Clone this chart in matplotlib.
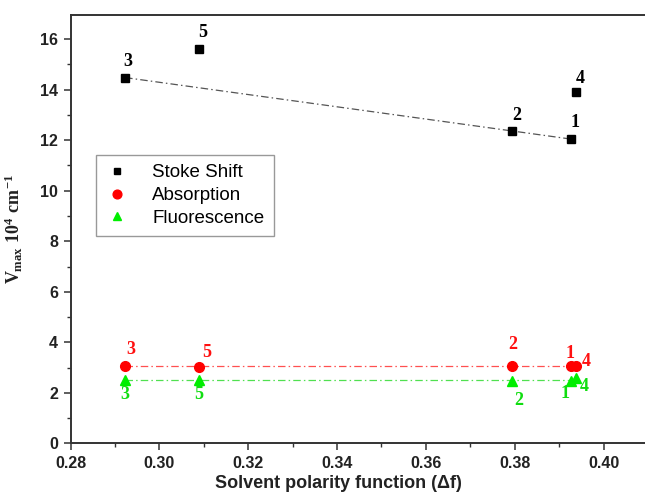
import numpy as np
import matplotlib
matplotlib.use("Agg")
import matplotlib.pyplot as plt
from matplotlib.ticker import MultipleLocator

plt.rcParams['mathtext.fontset'] = 'custom'
plt.rcParams['mathtext.rm'] = 'Liberation Serif:bold'
plt.rcParams['mathtext.bf'] = 'Liberation Serif:bold'
plt.rcParams['mathtext.it'] = 'Liberation Serif:bold'

# ---- data ----
solvents = ["1", "2", "3", "4", "5"]
delta_f = [0.3927, 0.3795, 0.2923, 0.3937, 0.3089]
stoke_shift = [12.04, 12.37, 14.48, 13.89, 15.60]
absorption = [3.05, 3.06, 3.06, 3.05, 3.04]
fluorescence = [2.46, 2.46, 2.52, 2.57, 2.52]
fit_solvents_stoke = ["1", "2", "3"]  # points used for the Stoke shift trend line

# label offsets (pixels) for the numeric point labels
stoke_off = [(4, 17), (4, 15), (3, 16), (5, 14), (4, 17)]
abs_off = [(-1, 13), (0, 22), (6, 17), (11, 5), (8, 14)]
flu_off = [(-6, -12), (6, -19), (0, -15), (9, -8), (0, -15)]

fig = plt.figure(figsize=(6.45, 4.93), dpi=100)
ax = fig.add_axes([70.5 / 645, (493 - 443.3) / 493, 1 - 70.5 / 645, (443.3 - 14.7) / 493])

x = np.array(delta_f)
dash = (0, (6, 2.5, 1.2, 2.5))

# trend lines
idx = [solvents.index(s) for s in fit_solvents_stoke]
p = np.polyfit(x[idx], np.array(stoke_shift)[idx], 1)
xs = np.array([x[idx].min(), x[idx].max()])
ax.plot(xs, np.polyval(p, xs), color='#555555', lw=0.9, ls=dash, zorder=1)

xa = np.array([x.min(), x.max()])
pa = np.polyfit(x, absorption, 0)
ax.plot(xa, np.polyval(pa, xa), color='#ff5050', lw=0.9, ls=dash, zorder=1)
pf = np.polyfit(x, fluorescence, 0)
ax.plot(xa, np.polyval(pf, xa), color='#50e050', lw=0.9, ls=dash, zorder=1)

ax.plot(x, stoke_shift, 's', color='black', ms=5.5, ls='none', label='Stoke Shift', zorder=3)
ax.plot(x, absorption, 'o', color='#ff0000', ms=7, ls='none', label='Absorption', zorder=3)
ax.plot(x, fluorescence, '^', color='#00ee00', ms=7, ls='none', label='Fluorescence', zorder=3)

num_font = dict(family='Liberation Serif', fontweight='bold', fontsize=13)
for i, s in enumerate(solvents):
    ax.annotate(s, (x[i], stoke_shift[i]), xytext=stoke_off[i], textcoords='offset pixels',
                ha='center', va='center', color='black', **num_font)
    ax.annotate(s, (x[i], absorption[i]), xytext=abs_off[i], textcoords='offset pixels',
                ha='center', va='center', color='#ff1010', **num_font)
    ax.annotate(s, (x[i], fluorescence[i]), xytext=flu_off[i], textcoords='offset pixels',
                ha='center', va='center', color='#10dd10', **num_font)

ax.set_xlim(0.28, 0.28 + 574.5 / 4442)
ax.set_ylim(0, 16.97)
ax.xaxis.set_major_locator(MultipleLocator(0.02))
ax.xaxis.set_minor_locator(MultipleLocator(0.01))
ax.yaxis.set_major_locator(MultipleLocator(2))
ax.yaxis.set_minor_locator(MultipleLocator(1))
ax.set_xticks([0.28, 0.30, 0.32, 0.34, 0.36, 0.38, 0.40])
ax.set_xticklabels(['0.28', '0.30', '0.32', '0.34', '0.36', '0.38', '0.40'])

ax.tick_params(which='major', direction='out', length=5, width=1.1, color='#333333',
               labelsize=11.5, pad=4)
ax.tick_params(which='minor', direction='out', length=3, width=1.0, color='#333333')
for lab in ax.get_xticklabels() + ax.get_yticklabels():
    lab.set_fontfamily('Liberation Sans')
    lab.set_fontweight('bold')
    lab.set_color('#222222')

for side in ['left', 'bottom', 'top']:
    ax.spines[side].set_linewidth(1.4)
    ax.spines[side].set_color('#333333')
ax.spines['right'].set_visible(False)

ax.set_xlabel('Solvent polarity function (\u0394f)', fontfamily='Liberation Sans',
              fontweight='bold', fontsize=13, color='#222222')
ax.xaxis.set_label_coords((338.5 - 70.5) / 574.5, -0.075)
ax.set_ylabel(r'$V_{max}\ 10^{4}\ cm^{-1}$', fontsize=13, color='#222222')
ax.yaxis.set_label_coords(-(70.5 - 25) / 574.5, 0.5)

leg = ax.legend(loc='upper left', bbox_to_anchor=((96 - 70.5) / 574.5, (443.3 - 155) / 428.6),
                frameon=True, fancybox=False, edgecolor='#999999', framealpha=1,
                prop={'family': 'Liberation Sans', 'size': 13.5}, handlelength=1.2,
                handletextpad=1.3, borderpad=0.5, labelspacing=0.3, borderaxespad=0,
                markerscale=0.9)
leg.get_frame().set_linewidth(1.0)

fig.savefig('out.png', dpi=100)
